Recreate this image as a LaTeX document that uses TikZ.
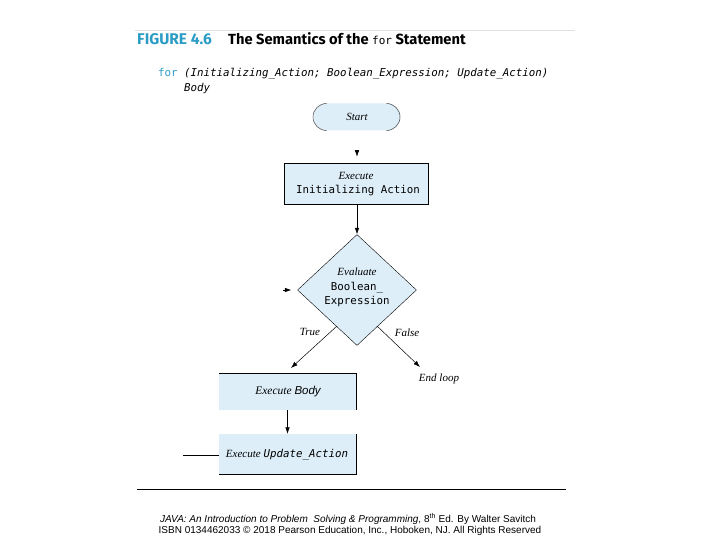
\documentclass[tikz,border=0pt]{standalone}
\usepackage{fontspec}
\setmainfont{Liberation Serif}
\newfontfamily\hdfont{Fira Sans}
\newfontfamily\cdfont{DejaVu Sans Mono}
\newfontfamily\arfont{Liberation Sans}
\usetikzlibrary{shapes.geometric,arrows.meta}
\definecolor{boxblue}{HTML}{DDEEF8}
\definecolor{teal}{HTML}{2B9CC4}
\begin{document}
\begin{tikzpicture}[x=1pt,y=-1pt,
  box/.style={fill=boxblue,minimum width=#1,inner sep=0pt,align=center},
  lbl/.style={font=\fontsize{11}{13}\selectfont\itshape,inner sep=0pt},
  arr/.style={-{Latex[length=6.5pt,width=4.5pt]},line width=0.5pt},
  ln/.style={line width=0.5pt}]
\useasboundingbox (0,0) rectangle (720,540);
% top rule
\draw[line width=0.4pt,black!12] (135,30) -- (575,30);
\node[anchor=west,inner sep=0pt,text=teal,font=\hdfont\bfseries\fontsize{15.5}{17}\selectfont] (fig) at (137,39) {FIGURE 4.6};
\node[anchor=west,inner sep=0pt,font=\hdfont\bfseries\fontsize{14.7}{17}\selectfont] (title) at (228,39) {The Semantics of the {\cdfont\mdseries\fontsize{11}{13}\selectfont for} Statement};
% code
\node[anchor=west,inner sep=0pt,font=\cdfont\fontsize{10.8}{12}\selectfont] (code) at (158,74) {\textcolor{teal}{for} \textit{(Initializing\_Action; Boolean\_Expression; Update\_Action)}};
\node[anchor=west,inner sep=0pt,font=\cdfont\itshape\fontsize{10.8}{12}\selectfont] (body) at (184,89) {Body};
% start
\node[fill=boxblue,rounded corners=13.5pt,minimum width=87pt,minimum height=27pt,inner sep=0pt,font=\fontsize{11}{13}\selectfont\itshape] (start) at (357,117) {Start};
\draw[ln,black!75] (326.5,130.5) arc (90:270:13.5);
\draw[ln,black!75] (386.5,130.5) arc (90:-90:13.5);
% init box
\node[box=144pt,draw,line width=0.6pt,minimum height=41pt] (init) at (356,183.5) {};
\node[lbl] (initA) at (356,176) {Execute};
\node[inner sep=0pt,font=\cdfont\fontsize{10.8}{12}\selectfont] (initB) at (358,191) {Initializing Action};
\coordinate (s1) at (357,150);
\draw[arr,shorten >=6pt] (s1) -- (init.north -| s1);
% diamond
\node[diamond,fill=boxblue,draw,line width=0.4pt,minimum width=119pt,minimum height=111pt,inner sep=0pt] (dia) at (357,290) {};
\node[lbl] (diaA) at (357,272) {Evaluate};
\node[inner sep=0pt,font=\cdfont\fontsize{10.8}{12}\selectfont] (diaB) at (357,288) {Boolean\_};
\node[inner sep=0pt,font=\cdfont\fontsize{10.8}{12}\selectfont] (diaC) at (357,302) {Expression};
\draw[arr] (init.south -| dia.north) -- (dia.north);
\coordinate (l1) at (283,290);
\draw[arr,shorten >=6pt] (l1) -- (dia.west);
% branches
\coordinate (tA) at (337,326);
\coordinate (fA) at (377,326);
\coordinate (tB) at (291,368);
\coordinate (endl) at (420,367);
\draw[arr] (tA) -- (tB);
\draw[arr] (fA) -- (endl);
\node[lbl] (true) at (310,332) {True};
\node[lbl] (false) at (407,333) {False};
\node[lbl] (endloop) at (439,379) {End loop};
% body box
\node[box=137pt,minimum height=37pt] (bbox) at (287.5,391.5) {};
\draw[ln] (bbox.north west) -- (bbox.north east) -- (bbox.south east);
\node[inner sep=0pt,font=\fontsize{11.5}{13}\selectfont] (btxt) at (288,392) {\textit{Execute} {\arfont\itshape Body}};
% update box
\node[box=137pt,minimum height=40pt] (ubox) at (287.5,454) {};
\draw[ln] (ubox.north east) -- (ubox.south east) -- (ubox.south west);
\node[inner sep=0pt,font=\fontsize{11}{13}\selectfont] (utxt) at (287,455) {\textit{Execute} {\cdfont\itshape\fontsize{10.8}{12}\selectfont Update\_Action}};
\draw[arr] (bbox.south) -- (ubox.north);
\coordinate (uL) at (183,455);
\draw[ln] (uL) -- (ubox.west |- uL);
% bottom rule
\draw[line width=0.6pt] (137,489) -- (566,489);
\node[inner sep=0pt,font=\arfont\fontsize{10}{12}\selectfont] (f1) at (348,519) {\textit{JAVA: An Introduction to Problem\ \ Solving \& Programming}, 8\textsuperscript{th} Ed. By Walter Savitch};
\node[inner sep=0pt,font=\arfont\fontsize{10}{12}\selectfont] (f2) at (350,531) {ISBN 0134462033 \textcopyright{} 2018 Pearson Education, Inc., Hoboken, NJ. All Rights Reserved};
\end{tikzpicture}
\end{document}
